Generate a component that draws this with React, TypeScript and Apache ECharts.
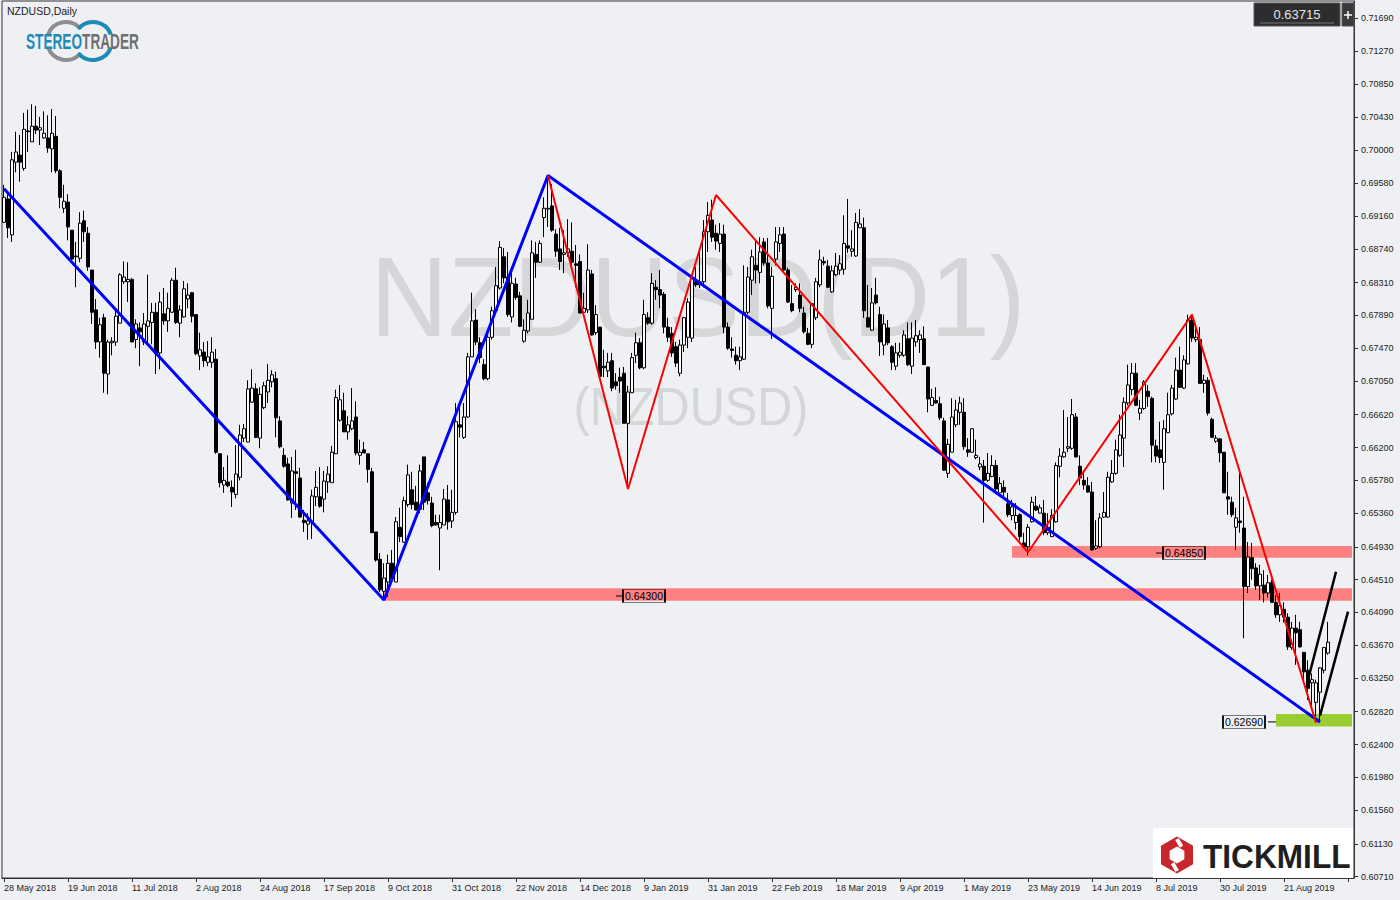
import React, { useEffect, useRef } from 'react';
import * as echarts from 'echarts';

// ---------- DATA ----------
const xLabels = ['28 May 2018', '19 Jun 2018', '11 Jul 2018', '2 Aug 2018', '24 Aug 2018', '17 Sep 2018', '9 Oct 2018', '31 Oct 2018', '22 Nov 2018', '14 Dec 2018', '9 Jan 2019', '31 Jan 2019', '22 Feb 2019', '18 Mar 2019', '9 Apr 2019', '1 May 2019', '23 May 2019', '14 Jun 2019', '8 Jul 2019', '30 Jul 2019', '21 Aug 2019'];
const yTickLabels = ['0.71690', '0.71270', '0.70850', '0.70430', '0.70000', '0.69580', '0.69160', '0.68740', '0.68310', '0.67890', '0.67470', '0.67050', '0.66620', '0.66200', '0.65780', '0.65360', '0.64930', '0.64510', '0.64090', '0.63670', '0.63250', '0.62820', '0.62400', '0.61980', '0.61560', '0.61130', '0.60710'];

const open = [
0.6908,0.6938,0.6892,0.6985,0.6994,0.6977,0.7025,0.7011,0.7031,0.7026,
0.7016,0.7016,0.7002,0.7018,0.6974,0.6926,0.6934,0.6898,0.6865,0.6862,
0.6910,0.6894,0.6847,0.6796,0.6755,0.6786,0.6714,0.6754,0.6755,0.6779,
0.6832,0.6832,0.6835,0.6758,0.6773,0.6755,0.6775,0.6780,0.6793,0.6741,
0.6791,0.6782,0.6793,0.6834,0.6779,0.6787,0.6810,0.6818,0.6790,0.6737,
0.6742,0.6729,0.6729,0.6733,0.6612,0.6572,0.6576,0.6569,0.6560,0.6582,
0.6632,0.6627,0.6678,0.6695,0.6632,0.6671,0.6691,0.6704,0.6708,0.6654,
0.6610,0.6599,0.6549,0.6589,0.6581,0.6527,0.6522,0.6524,0.6557,0.6557,
0.6554,0.6576,0.6575,0.6612,0.6655,0.6667,0.6640,0.6644,0.6659,0.6610,
0.6617,0.6612,0.6589,0.6512,0.6477,0.6436,0.6448,0.6472,0.6448,0.6518,
0.6499,0.6547,0.6566,0.6550,0.6541,0.6608,0.6562,0.6549,0.6524,0.6517,
0.6521,0.6553,0.6526,0.6537,0.6649,0.6633,0.6659,0.6736,0.6783,0.6754,
0.6726,0.6708,0.6761,0.6795,0.6824,0.6864,0.6838,0.6787,0.6829,0.6814,
0.6756,0.6769,0.6784,0.6867,0.6857,0.6914,0.6925,0.6929,0.6893,0.6874,
0.6867,0.6869,0.6871,0.6855,0.6858,0.6793,0.6796,0.6842,0.6767,0.6774,
0.6724,0.6718,0.6731,0.6704,0.6710,0.6715,0.6651,0.6690,0.6738,0.6754,
0.6722,0.6786,0.6779,0.6825,0.6822,0.6816,0.6774,0.6766,0.6749,0.6715,
0.6751,0.6761,0.6760,0.6832,0.6828,0.6832,0.6896,0.6911,0.6894,0.6881,
0.6893,0.6774,0.6746,0.6738,0.6731,0.6733,0.6793,0.6834,0.6853,0.6844,
0.6883,0.6856,0.6798,0.6861,0.6881,0.6893,0.6847,0.6804,0.6822,0.6815,
0.6792,0.6766,0.6752,0.6786,0.6828,0.6858,0.6852,0.6819,0.6841,0.6847,
0.6848,0.6878,0.6871,0.6865,0.6901,0.6901,0.6786,0.6770,0.6815,0.6790,
0.6751,0.6773,0.6749,0.6724,0.6738,0.6738,0.6759,0.6724,0.6755,0.6758,
0.6759,0.6723,0.6674,0.6680,0.6676,0.6654,0.6587,0.6614,0.6649,0.6665,
0.6665,0.6617,0.6614,0.6607,0.6595,0.6596,0.6578,0.6583,0.6597,0.6562,
0.6569,0.6548,0.6533,0.6524,0.6534,0.6498,0.6493,0.6525,0.6545,0.6536,
0.6536,0.6511,0.6506,0.6525,0.6596,0.6608,0.6619,0.6619,0.6659,0.6596,
0.6578,0.6571,0.6563,0.6491,0.6493,0.6531,0.6531,0.6576,0.6587,0.6610,
0.6632,0.6677,0.6694,0.6715,0.6664,0.6670,0.6692,0.6683,0.6622,0.6617,
0.6601,0.6639,0.6663,0.6682,0.6719,0.6696,0.6727,0.6783,0.6758,0.6758,
0.6702,0.6706,0.6656,0.6628,0.6631,0.6614,0.6557,0.6550,0.6518,0.6526,
0.6517,0.6442,0.6479,0.6466,0.6443,0.6444,0.6434,0.6447,0.6422,0.6406,
0.6413,0.6403,0.6364,0.6389,0.6387,0.6358,0.6335,0.6319,0.6294,0.6307,
0.6335,0.6357];

const close = [
0.6940,0.6901,0.6988,0.6998,0.6985,0.7027,0.7024,0.7031,0.7026,0.7029,
0.7022,0.7003,0.7022,0.6974,0.6940,0.6935,0.6902,0.6861,0.6864,0.6907,
0.6896,0.6851,0.6793,0.6755,0.6777,0.6715,0.6755,0.6756,0.6788,0.6841,
0.6838,0.6835,0.6755,0.6778,0.6768,0.6778,0.6782,0.6793,0.6740,0.6806,
0.6782,0.6798,0.6834,0.6780,0.6796,0.6823,0.6815,0.6788,0.6740,0.6745,
0.6731,0.6736,0.6742,0.6614,0.6575,0.6578,0.6571,0.6563,0.6586,0.6636,
0.6644,0.6695,0.6696,0.6633,0.6688,0.6699,0.6706,0.6713,0.6658,0.6621,
0.6596,0.6553,0.6590,0.6587,0.6531,0.6524,0.6526,0.6558,0.6569,0.6545,
0.6577,0.6586,0.6614,0.6684,0.6681,0.6640,0.6649,0.6654,0.6613,0.6614,
0.6613,0.6592,0.6511,0.6476,0.6438,0.6453,0.6472,0.6452,0.6525,0.6506,
0.6552,0.6585,0.6547,0.6540,0.6590,0.6550,0.6552,0.6520,0.6521,0.6524,
0.6554,0.6525,0.6537,0.6653,0.6646,0.6659,0.6736,0.6782,0.6755,0.6735,
0.6708,0.6761,0.6795,0.6827,0.6876,0.6837,0.6790,0.6830,0.6812,0.6775,
0.6770,0.6792,0.6869,0.6857,0.6881,0.6926,0.6926,0.6898,0.6871,0.6858,
0.6869,0.6874,0.6857,0.6853,0.6792,0.6798,0.6847,0.6764,0.6790,0.6711,
0.6722,0.6729,0.6696,0.6699,0.6705,0.6651,0.6691,0.6735,0.6754,0.6722,
0.6790,0.6779,0.6830,0.6822,0.6815,0.6774,0.6761,0.6741,0.6728,0.6751,
0.6786,0.6806,0.6837,0.6828,0.6832,0.6896,0.6917,0.6889,0.6884,0.6893,
0.6774,0.6747,0.6744,0.6731,0.6736,0.6793,0.6838,0.6864,0.6847,0.6870,
0.6856,0.6801,0.6839,0.6883,0.6892,0.6847,0.6806,0.6795,0.6825,0.6798,
0.6768,0.6752,0.6804,0.6832,0.6860,0.6856,0.6825,0.6846,0.6852,0.6855,
0.6881,0.6875,0.6874,0.6908,0.6906,0.6795,0.6774,0.6805,0.6805,0.6755,
0.6778,0.6754,0.6729,0.6741,0.6742,0.6764,0.6726,0.6760,0.6763,0.6764,
0.6726,0.6682,0.6684,0.6677,0.6658,0.6591,0.6624,0.6659,0.6668,0.6677,
0.6621,0.6614,0.6644,0.6610,0.6599,0.6578,0.6587,0.6597,0.6567,0.6574,
0.6563,0.6534,0.6544,0.6533,0.6506,0.6493,0.6518,0.6550,0.6540,0.6543,
0.6511,0.6518,0.6533,0.6597,0.6609,0.6614,0.6621,0.6662,0.6608,0.6581,
0.6572,0.6563,0.6489,0.6494,0.6530,0.6537,0.6582,0.6587,0.6617,0.6636,
0.6678,0.6700,0.6715,0.6674,0.6670,0.6704,0.6685,0.6623,0.6609,0.6607,
0.6644,0.6662,0.6696,0.6719,0.6697,0.6732,0.6783,0.6760,0.6761,0.6702,
0.6706,0.6664,0.6633,0.6632,0.6613,0.6562,0.6554,0.6534,0.6530,0.6524,
0.6442,0.6480,0.6465,0.6443,0.6458,0.6434,0.6447,0.6422,0.6406,0.6418,
0.6403,0.6365,0.6389,0.6383,0.6365,0.6333,0.6312,0.6323,0.6319,0.6338,
0.6364,0.6371];

const high = [
0.6956,0.6947,0.6998,0.7024,0.7020,0.7048,0.7052,0.7059,0.7057,0.7043,
0.7050,0.7045,0.7053,0.7044,0.6976,0.6956,0.6944,0.6898,0.6883,0.6921,
0.6923,0.6902,0.6847,0.6810,0.6786,0.6791,0.6758,0.6761,0.6797,0.6843,
0.6858,0.6857,0.6837,0.6784,0.6780,0.6792,0.6841,0.6805,0.6805,0.6819,
0.6824,0.6818,0.6837,0.6850,0.6802,0.6833,0.6830,0.6819,0.6790,0.6767,
0.6755,0.6756,0.6761,0.6746,0.6612,0.6595,0.6610,0.6578,0.6623,0.6649,
0.6650,0.6706,0.6720,0.6702,0.6697,0.6704,0.6727,0.6719,0.6717,0.6660,
0.6619,0.6607,0.6608,0.6617,0.6594,0.6540,0.6536,0.6566,0.6590,0.6595,
0.6590,0.6596,0.6622,0.6694,0.6700,0.6690,0.6660,0.6696,0.6679,0.6630,
0.6627,0.6612,0.6594,0.6512,0.6485,0.6472,0.6483,0.6489,0.6531,0.6543,
0.6557,0.6598,0.6589,0.6571,0.6598,0.6608,0.6575,0.6557,0.6534,0.6534,
0.6567,0.6572,0.6566,0.6677,0.6677,0.6677,0.6741,0.6818,0.6797,0.6761,
0.6733,0.6770,0.6800,0.6851,0.6884,0.6875,0.6870,0.6843,0.6837,0.6819,
0.6784,0.6809,0.6885,0.6883,0.6885,0.6940,0.6968,0.6957,0.6899,0.6901,
0.6898,0.6912,0.6908,0.6879,0.6867,0.6818,0.6880,0.6847,0.6802,0.6774,
0.6745,0.6741,0.6741,0.6715,0.6722,0.6723,0.6699,0.6741,0.6767,0.6760,
0.6809,0.6793,0.6843,0.6834,0.6847,0.6819,0.6786,0.6774,0.6755,0.6758,
0.6787,0.6811,0.6841,0.6851,0.6870,0.6911,0.6934,0.6937,0.6905,0.6907,
0.6905,0.6780,0.6761,0.6749,0.6749,0.6853,0.6851,0.6873,0.6884,0.6889,
0.6888,0.6888,0.6851,0.6902,0.6902,0.6902,0.6850,0.6828,0.6830,0.6830,
0.6800,0.6773,0.6805,0.6837,0.6873,0.6864,0.6860,0.6853,0.6869,0.6866,
0.6917,0.6938,0.6898,0.6920,0.6925,0.6914,0.6828,0.6824,0.6837,0.6800,
0.6790,0.6783,0.6751,0.6754,0.6754,0.6770,0.6780,0.6780,0.6783,0.6770,
0.6775,0.6723,0.6695,0.6697,0.6685,0.6658,0.6631,0.6683,0.6681,0.6685,
0.6683,0.6632,0.6645,0.6630,0.6608,0.6604,0.6613,0.6610,0.6604,0.6582,
0.6578,0.6562,0.6553,0.6549,0.6536,0.6511,0.6522,0.6557,0.6558,0.6547,
0.6553,0.6536,0.6541,0.6601,0.6619,0.6668,0.6659,0.6682,0.6664,0.6610,
0.6587,0.6582,0.6576,0.6527,0.6536,0.6563,0.6589,0.6604,0.6630,0.6662,
0.6684,0.6726,0.6728,0.6728,0.6681,0.6706,0.6700,0.6685,0.6630,0.6653,
0.6655,0.6690,0.6700,0.6735,0.6749,0.6738,0.6790,0.6790,0.6774,0.6774,
0.6713,0.6710,0.6658,0.6636,0.6632,0.6614,0.6589,0.6557,0.6543,0.6591,
0.6557,0.6499,0.6498,0.6472,0.6470,0.6463,0.6457,0.6451,0.6431,0.6434,
0.6422,0.6408,0.6397,0.6406,0.6397,0.6358,0.6348,0.6331,0.6323,0.6339,
0.6365,0.6397];

const low = [
0.6908,0.6888,0.6883,0.6972,0.6960,0.6974,0.6998,0.7011,0.7021,0.7007,
0.7015,0.6997,0.6972,0.6971,0.6926,0.6920,0.6885,0.6860,0.6825,0.6857,
0.6883,0.6846,0.6778,0.6746,0.6735,0.6690,0.6688,0.6738,0.6750,0.6779,
0.6829,0.6806,0.6755,0.6747,0.6724,0.6751,0.6751,0.6752,0.6714,0.6720,
0.6777,0.6768,0.6792,0.6778,0.6761,0.6786,0.6798,0.6780,0.6738,0.6719,
0.6723,0.6724,0.6722,0.6612,0.6569,0.6562,0.6569,0.6544,0.6555,0.6578,
0.6627,0.6627,0.6677,0.6632,0.6619,0.6669,0.6677,0.6697,0.6633,0.6619,
0.6594,0.6552,0.6530,0.6540,0.6530,0.6512,0.6502,0.6503,0.6545,0.6543,
0.6537,0.6562,0.6575,0.6612,0.6653,0.6640,0.6630,0.6642,0.6610,0.6598,
0.6613,0.6575,0.6511,0.6474,0.6435,0.6425,0.6429,0.6448,0.6448,0.6499,
0.6498,0.6544,0.6541,0.6540,0.6536,0.6540,0.6547,0.6518,0.6520,0.6463,
0.6521,0.6515,0.6517,0.6534,0.6633,0.6631,0.6658,0.6736,0.6751,0.6728,
0.6706,0.6706,0.6758,0.6793,0.6822,0.6830,0.6787,0.6780,0.6809,0.6774,
0.6754,0.6766,0.6784,0.6837,0.6856,0.6889,0.6902,0.6896,0.6864,0.6847,
0.6843,0.6864,0.6847,0.6825,0.6792,0.6792,0.6792,0.6763,0.6764,0.6709,
0.6710,0.6710,0.6692,0.6694,0.6690,0.6651,0.6567,0.6690,0.6728,0.6720,
0.6720,0.6777,0.6777,0.6809,0.6798,0.6766,0.6755,0.6736,0.6723,0.6711,
0.6742,0.6747,0.6755,0.6825,0.6824,0.6825,0.6870,0.6883,0.6873,0.6870,
0.6766,0.6745,0.6735,0.6726,0.6719,0.6732,0.6790,0.6815,0.6830,0.6830,
0.6853,0.6798,0.6759,0.6853,0.6870,0.6846,0.6805,0.6793,0.6819,0.6793,
0.6766,0.6751,0.6747,0.6783,0.6825,0.6853,0.6824,0.6818,0.6839,0.6841,
0.6841,0.6869,0.6864,0.6864,0.6901,0.6786,0.6774,0.6769,0.6803,0.6737,
0.6738,0.6751,0.6719,0.6719,0.6735,0.6736,0.6724,0.6714,0.6749,0.6741,
0.6726,0.6665,0.6673,0.6676,0.6655,0.6590,0.6581,0.6614,0.6646,0.6649,
0.6617,0.6608,0.6613,0.6605,0.6591,0.6524,0.6576,0.6582,0.6563,0.6562,
0.6557,0.6531,0.6527,0.6515,0.6501,0.6491,0.6482,0.6524,0.6539,0.6536,
0.6508,0.6508,0.6506,0.6524,0.6582,0.6607,0.6614,0.6617,0.6607,0.6572,
0.6566,0.6562,0.6488,0.6489,0.6491,0.6530,0.6530,0.6575,0.6585,0.6608,
0.6595,0.6674,0.6687,0.6673,0.6655,0.6668,0.6672,0.6601,0.6601,0.6600,
0.6566,0.6639,0.6661,0.6681,0.6696,0.6695,0.6726,0.6755,0.6755,0.6702,
0.6690,0.6661,0.6632,0.6626,0.6601,0.6562,0.6534,0.6531,0.6489,0.6511,
0.6376,0.6434,0.6451,0.6438,0.6425,0.6422,0.6428,0.6421,0.6402,0.6397,
0.6396,0.6361,0.6361,0.6342,0.6364,0.6320,0.6297,0.6284,0.6276,0.6269,
0.6331,0.6355];

// Trend lines: [bar index, price]
const blueLine = [[0, 0.6951], [95, 0.6425], [136, 0.6968], [329, 0.6269]];
const redLine = [[136, 0.6968], [156, 0.6567], [178, 0.6943], [256, 0.6486], [297, 0.6790], [328, 0.6268]];
const blackLineA = [[326, 0.6323], [333, 0.6461]];
const blackLineB = [[329, 0.6277], [336, 0.6410]];

// Zones: [start bar, upper price, lower price]
const zones = [[95, 0.6440, 0.6424], [252, 0.6494, 0.6479], [318, 0.6279, 0.6263]];
// Level labels: [bar index, price, text, stub from bar, stub to bar]
const levelLabels: [number, number, string, number, number][] = [
  [160, 0.6430, '0.64300', 153, 155],
  [295, 0.6485, '0.64850', 288, 290],
  [310, 0.6269, '0.62690', 316, 318],
];
const currentPrice = '0.63715';
const slotCount = 338;

// ---------- STYLE ----------
const BG = '#eef0f3';
const FONT = 'Liberation Sans, Arial, sans-serif';
const zoneColors = ['#ff8080', '#ff8080', '#9acd32'];

function hexPoints(cx: number, cy: number, r: number) {
  const pts: number[][] = [];
  for (let k = 0; k < 6; k++) {
    const a = (Math.PI / 180) * (-90 + 60 * k);
    pts.push([cx + r * Math.cos(a), cy + r * Math.sin(a)]);
  }
  return pts;
}

export default function App() {
  const ref = useRef<HTMLDivElement>(null);
  useEffect(() => {
    if (!ref.current) return;
    const chart = echarts.init(ref.current, undefined, { renderer: 'svg' });
    const categories = Array.from({ length: slotCount }, (_, i) => String(i));
    const candles = open.map((o, i) => [o, close[i], low[i], high[i]]);
    const deg = Math.PI / 180;

    const option: any = {
      animation: false,
      backgroundColor: BG,
      grid: { left: 2, right: 46, top: 1, bottom: 22, show: true, borderColor: '#333', borderWidth: 1, backgroundColor: 'transparent', outerBoundsMode: 'none' },
      xAxis: {
        type: 'category',
        data: categories,
        boundaryGap: true,
        axisLine: { show: true, lineStyle: { color: '#333', width: 1 } },
        axisTick: { show: true, alignWithLabel: true, interval: (i: number) => i % 16 === 0, length: 4, lineStyle: { color: '#333' } },
        axisLabel: {
          interval: (i: number) => i % 16 === 0,
          formatter: (_v: string, i: number) => (i % 16 === 0 && xLabels[i / 16]) ? xLabels[i / 16] : '',
          align: 'left', margin: 5, fontSize: 9, color: '#222', fontFamily: FONT,
        },
        splitLine: { show: false },
      },
      yAxis: {
        type: 'value',
        position: 'right',
        min: 0.606934,
        max: 0.719113,
        scale: true,
        axisLine: { show: true, lineStyle: { color: '#333', width: 1 } },
        axisTick: { show: true, length: 4, lineStyle: { color: '#333' }, customValues: yTickLabels.map(Number) },
        axisLabel: { show: true, margin: 7, fontSize: 9, color: '#222', fontFamily: FONT, customValues: yTickLabels.map(Number), formatter: (v: number) => v.toFixed(5) },
        splitLine: { show: false },
      },
      graphic: [
        { type: 'text', z: 0, x: 698, y: 296, scaleX: 0.94, style: { text: 'NZDUSD(D1)', fill: '#d5d6d8', font: `114px ${FONT}`, textAlign: 'center', textVerticalAlign: 'middle' } },
        { type: 'text', z: 0, x: 691, y: 406, scaleX: 0.9, style: { text: '(NZDUSD)', fill: '#d5d6d8', font: `54px ${FONT}`, textAlign: 'center', textVerticalAlign: 'middle' } },
        { type: 'text', z: 20, x: 7, y: 11, style: { text: 'NZDUSD,Daily', fill: '#1a1a1a', font: `10.5px ${FONT}`, textVerticalAlign: 'middle' } },
        // STEREOTRADER logo
        { type: 'arc', z: 20, shape: { cx: 66, cy: 41, r: 19, startAngle: -160 * deg, endAngle: -40 * deg }, style: { stroke: '#8d8e90', lineWidth: 4, fill: 'none' } },
        { type: 'arc', z: 20, shape: { cx: 66, cy: 41, r: 19, startAngle: 40 * deg, endAngle: 160 * deg }, style: { stroke: '#8d8e90', lineWidth: 4, fill: 'none' } },
        { type: 'arc', z: 20, shape: { cx: 93, cy: 41, r: 19, startAngle: -140 * deg, endAngle: -20 * deg }, style: { stroke: '#1f8ab8', lineWidth: 4, fill: 'none' } },
        { type: 'arc', z: 20, shape: { cx: 93, cy: 41, r: 19, startAngle: 20 * deg, endAngle: 140 * deg }, style: { stroke: '#1f8ab8', lineWidth: 4, fill: 'none' } },
        { type: 'text', z: 21, x: 26, y: 41, scaleX: 0.62, style: { text: '{a|STEREO}{b|TRADER}', rich: { a: { fill: '#1f8ab8', font: `bold 22px ${FONT}` }, b: { fill: '#6e6f71', font: `bold 22px ${FONT}` } }, textVerticalAlign: 'middle' } },
        // Current price box
        { type: 'rect', z: 20, shape: { x: 1254, y: 3, width: 86, height: 23 }, style: { fill: '#2d2d2f', stroke: '#555', lineWidth: 1 } },
        { type: 'line', z: 21, shape: { x1: 1260, y1: 23, x2: 1334, y2: 23 }, style: { stroke: '#777', lineWidth: 1 } },
        { type: 'text', z: 21, x: 1297, y: 14, style: { text: currentPrice, fill: '#e4e4e4', font: `13px ${FONT}`, textAlign: 'center', textVerticalAlign: 'middle' } },
        { type: 'rect', z: 20, shape: { x: 1342, y: 3, width: 12, height: 23 }, style: { fill: '#3a3a3c', stroke: '#555', lineWidth: 1 } },
        { type: 'line', z: 21, shape: { x1: 1344, y1: 15, x2: 1352, y2: 15 }, style: { stroke: '#fff', lineWidth: 1.5 } },
        { type: 'line', z: 21, shape: { x1: 1348, y1: 11, x2: 1348, y2: 19 }, style: { stroke: '#fff', lineWidth: 1.5 } },
        // Tickmill logo
        { type: 'rect', z: 20, shape: { x: 1153, y: 828, width: 200, height: 50 }, style: { fill: '#ffffff' } },
        { type: 'polygon', z: 21, shape: { points: hexPoints(1177, 855, 18.5) }, style: { fill: '#c9252c' } },
        { type: 'polygon', z: 22, shape: { points: hexPoints(1177, 855, 8.5) }, style: { fill: '#ffffff' } },
        { type: 'rect', z: 22, x: 1177, y: 855, rotation: 30 * deg, shape: { x: 6, y: -14, width: 4, height: 9 }, style: { fill: '#ffffff' } },
        { type: 'rect', z: 22, x: 1177, y: 855, rotation: 30 * deg, shape: { x: -10, y: 5, width: 4, height: 9 }, style: { fill: '#ffffff' } },
        { type: 'text', z: 21, x: 1203, y: 856, scaleX: 0.93, style: { text: 'TICKMILL', fill: '#1f1f1f', font: `bold 34px ${FONT}`, textVerticalAlign: 'middle' } },
      ],
      series: [
        {
          type: 'line', data: [], z: 1, silent: true,
          markArea: {
            silent: true,
            data: zones.map((z, k) => [
              { xAxis: z[0], yAxis: z[1], itemStyle: { color: zoneColors[k], opacity: 1 } },
              { xAxis: slotCount - 1, yAxis: z[2] },
            ]),
          },
        },
        {
          type: 'candlestick', data: candles, z: 3, barWidth: 3,
          itemStyle: { color: '#ffffff', color0: '#000000', borderColor: '#000000', borderColor0: '#000000', borderWidth: 1 },
        },
        { type: 'line', data: blueLine, z: 5, symbol: 'none', silent: true, lineStyle: { color: '#0000ff', width: 3 } },
        { type: 'line', data: redLine, z: 5, symbol: 'none', silent: true, lineStyle: { color: '#ff0000', width: 2 } },
        { type: 'line', data: blackLineA, z: 5, symbol: 'none', silent: true, lineStyle: { color: '#000000', width: 2.5 } },
        { type: 'line', data: blackLineB, z: 5, symbol: 'none', silent: true, lineStyle: { color: '#000000', width: 2.5 } },
        ...levelLabels.map((l) => ({
          type: 'line', data: [[l[3], l[1]], [l[4], l[1]]], z: 6, symbol: 'none', silent: true, lineStyle: { color: '#000', width: 1 },
        })),
        {
          type: 'line', data: [], z: 7, silent: true,
          markPoint: {
            silent: true,
            symbol: 'rect',
            symbolSize: [42, 13],
            itemStyle: { color: 'rgba(0,0,0,0)', borderColor: '#000', borderWidth: 1 },
            label: { show: true, position: 'inside', formatter: '{c}', color: '#000', fontSize: 10.5, fontFamily: FONT },
            data: levelLabels.map((l) => ({ coord: [l[0], l[1]], value: l[2] })),
          },
        },
      ],
    };
    chart.setOption(option);
    return () => chart.dispose();
  }, []);
  return <div ref={ref} style={{ position: 'fixed', left: 0, top: 0, width: 1400, height: 900 }} />;
}
